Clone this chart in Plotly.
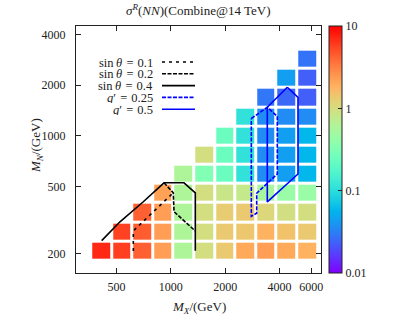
import numpy as np
import plotly.graph_objects as go

# ---------------- data ----------------
MX_GEV = [413, 537, 699, 909, 1182, 1537, 2000, 2600, 3380, 4395, 5714]
MN_GEV = [206, 268, 349, 454, 590, 767, 997, 1296, 1685, 2190, 2847]

# sigma^R (fb) per column (M_X), rows from bottom (M_N) up
SIGMA_COLS = [
    [7.1],
    [5.8, 5.6],
    [4.3, 4.4, 4.3],
    [2.3, 2.3, 2.3, 2.2],
    [0.59, 0.59, 0.59, 0.59, 0.59],
    [0.98, 0.98, 0.98, 0.98, 0.32, 0.98],
    [1.35, 1.35, 1.3, 0.85, 0.24, 0.24, 0.24],
    [2.0, 1.4, 1.35, 0.8, 0.11, 0.11, 0.11, 0.11],
    [2.3, 1.8, 1.1, 0.55, 0.036, 0.036, 0.036, 0.036, 0.029],
    [2.0, 1.5, 0.95, 0.45, 0.044, 0.044, 0.044, 0.036, 0.025, 0.044],
    [1.8, 1.35, 0.98, 0.45, 0.058, 0.058, 0.058, 0.036, 0.023, 0.023, 0.028],
]

# contour curves (M_X, M_N) in GeV
SIN01_MX = [620, 620, 650, 969, 1015]
SIN01_MN = [206.5, 271.5, 285.5, 424.6, 450]
SIN02_MX = [917, 1032, 1042, 1367]
SIN02_MN = [525, 458, 353.5, 271.5]
SIN04_MX = [414, 523, 704, 917, 1183, 1367, 1367]
SIN04_MN = [237.8, 308, 405, 525, 525, 458, 207]
G025_MX = [2793, 3424, 3891, 3891, 2991, 2991, 2793, 2793]
G025_MN = [1265, 1475, 1304, 592, 455, 346, 332, 1265]
G05_MX = [4420, 5067, 5067, 3424, 3424, 4420]
G05_MN = [1940, 1691, 592, 404, 1475, 1940]

X_TICKS = [500, 1000, 2000, 4000, 6000]
Y_TICKS = [200, 500, 1000, 2000, 4000]
CB_TICKS = [0.01, 0.1, 1, 10]

EQ = "\u2004=\u2004"
LEGEND_LABELS = ["sin\u2009<i>θ</i>" + EQ + "0.1", "sin\u2009<i>θ</i>" + EQ + "0.2",
                 "sin\u2009<i>θ</i>" + EQ + "0.4",
                 "<i>g</i>′" + EQ + "0.25", "<i>g</i>′" + EQ + "0.5"]

# ---------------- build ----------------
lx = np.log10(MX_GEV)
ly = np.log10(MN_GEV)
Z = [[None] * len(MX_GEV) for _ in MN_GEV]
for k, col in enumerate(SIGMA_COLS):
    for j, v in enumerate(col):
        Z[j][k] = float(np.log10(v))

# gnuplot rgbformulae 33,13,10 (rainbow)
stops = np.linspace(0, 1, 41)
cscale = []
for s in stops:
    r = min(1, abs(2 * s - 0.5))
    g = max(0, np.sin(np.pi * s))
    b = max(0, np.cos(np.pi * s / 2))
    cscale.append([float(s), f"rgb({int(round(r*255))},{int(round(g*255))},{int(round(b*255))})"])

FONT = "Liberation Serif"
TXT = "#222"

fig = go.Figure()
fig.add_trace(go.Heatmap(
    x=lx, y=ly, z=Z, zmin=-2, zmax=1, colorscale=cscale,
    xgap=3, ygap=3, hoverongaps=False,
    colorbar=dict(
        x=1.033, xanchor="left", xpad=0, y=0.5, yanchor="middle", len=1, lenmode="fraction",
        thickness=13, thicknessmode="pixels", outlinecolor="#222", outlinewidth=1,
        tickmode="array", tickvals=np.log10(CB_TICKS).tolist(),
        ticktext=[f"{t:g}" for t in CB_TICKS],
        ticks="inside", ticklen=4, tickcolor="#222",
        tickfont=dict(family=FONT, size=12, color=TXT), ypad=0,
    ),
))

line_specs = [
    (SIN01_MX, SIN01_MN, "black", "3px,4px"),
    (SIN02_MX, SIN02_MN, "black", "4px,1.5px"),
    (SIN04_MX, SIN04_MN, "black", "solid"),
    (G025_MX, G025_MN, "blue", "4px,1.5px"),
    (G05_MX, G05_MN, "blue", "solid"),
]
for mx, mn, c, d in line_specs:
    fig.add_trace(go.Scatter(x=np.log10(mx), y=np.log10(mn), mode="lines",
                             line=dict(color=c, width=1.6, dash=d), showlegend=False,
                             hoverinfo="skip"))

axis_common = dict(showline=True, linecolor="#222", linewidth=1, mirror="allticks",
                   ticks="inside", ticklen=5, tickcolor="#222", showgrid=False, zeroline=False,
                   tickfont=dict(family=FONT, size=12, color=TXT))
fig.update_xaxes(range=[2.4748, 3.8321], tickmode="array", ticklabelstandoff=3,
                 tickvals=np.log10(X_TICKS).tolist(), ticktext=[str(t) for t in X_TICKS],
                 **axis_common)
fig.update_yaxes(range=[2.1842, 3.6518], tickmode="array", ticklabelstandoff=7,
                 tickvals=np.log10(Y_TICKS).tolist(), ticktext=[str(t) for t in Y_TICKS],
                 **axis_common)

L, R, T, B = 76, 78, 26, 42
W, H = 399, 315
pw, ph = W - L - R, H - T - B

def px(x):
    return (x - L) / pw

def py(y):
    return (H - B - y) / ph

ann = []
shapes = []
rows_y = [62, 73.8, 85.6, 97.4, 109.2]
for (mx, mn, c, d), lab, yy in zip(line_specs, LEGEND_LABELS, rows_y):
    ann.append(dict(text=lab, x=px(155), y=py(yy), xref="paper", yref="paper",
                    xanchor="right", yanchor="middle", showarrow=False, height=11,
                    font=dict(family=FONT, size=12.5, color=TXT)))
    shapes.append(dict(type="line", xref="paper", yref="paper", x0=px(162), x1=px(195),
                       y0=py(yy), y1=py(yy), line=dict(color=c, width=1.6, dash=d)))

ann.append(dict(text="<i>M</i><sub><i>X</i></sub>/(GeV)", x=px(199), y=py(307),
                xref="paper", yref="paper", xanchor="center", yanchor="middle",
                showarrow=False, font=dict(family=FONT, size=13, color=TXT)))
ann.append(dict(text="<i>M</i><sub><i>N</i></sub>/(GeV)", x=px(36), y=py(146),
                xref="paper", yref="paper", xanchor="center", yanchor="middle",
                textangle=-90, showarrow=False, font=dict(family=FONT, size=13, color=TXT)))
ann.append(dict(text="<i>σ</i><sup><i>R</i></sup>(<i>NN</i>)(Combine@14 TeV)", x=px(198), y=py(10),
                xref="paper", yref="paper", xanchor="center", yanchor="middle",
                showarrow=False, font=dict(family=FONT, size=13, color=TXT)))

fig.update_layout(width=W, height=H, margin=dict(l=L, r=R, t=T, b=B),
                  paper_bgcolor="white", plot_bgcolor="white",
                  annotations=ann, shapes=shapes, showlegend=False)

fig.write_html("out.html", config={"displayModeBar": False},
               post_script="document.body.style.margin='0';document.body.style.overflow='hidden';")
